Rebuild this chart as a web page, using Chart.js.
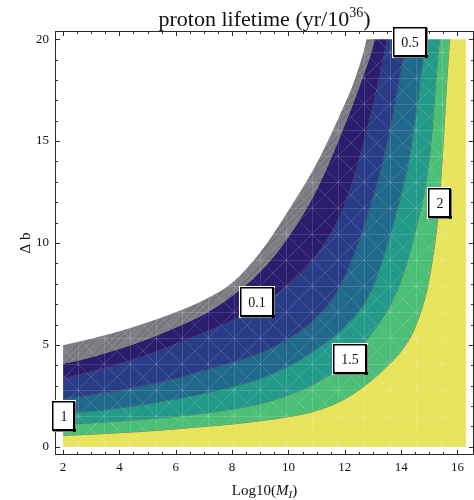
<!DOCTYPE html>
<html>
<head>
<meta charset="utf-8">
<script src="https://cdn.jsdelivr.net/npm/chart.js@4/dist/chart.umd.min.js"></script>
<style>
  html, body { margin: 0; padding: 0; background: #fff; }
</style>
</head>
<body>
<canvas id="chart" width="474" height="500"></canvas>
<script>
const FONT = "'Liberation Serif', 'Times New Roman', Times, serif";

// contour lines (x = Log10(M_I), y = Δb)
const edgeX   = [2, 3, 4.5, 6, 7, 8, 9, 10, 11, 11.8, 12.4, 12.77];
const edgeY   = [4.98, 5.3, 5.88, 6.6, 7.2, 8.05, 9.55, 11.6, 13.9, 16.2, 18.2, 20];
const lvl005X = [2, 3, 4.5, 6, 7, 8, 9, 10, 11, 12, 12.6, 13.06];
const lvl005Y = [4.08, 4.4, 5.03, 5.85, 6.5, 7.4, 8.6, 10.3, 12.6, 15.8, 18.0, 20];
const lvl01X  = [2, 3, 4.5, 6, 7, 8, 9, 10, 11, 12, 12.8, 13.5];
const lvl01Y  = [3.35, 3.7, 4.28, 5.05, 5.6, 6.2, 6.95, 7.95, 9.4, 11.9, 15.6, 20];
const lvl05X  = [2, 3, 4.5, 6, 7, 8, 9, 10, 11, 11.8, 12.6, 13.4, 14.2];
const lvl05Y  = [2.37, 2.55, 2.9, 3.35, 3.75, 4.15, 4.6, 5.3, 6.35, 7.8, 10.5, 14.3, 20];
const lvl1X   = [2, 3, 4.5, 6, 7, 8, 9, 10, 11, 12, 12.8, 13.2, 13.6, 14.3, 14.88];
const lvl1Y   = [1.6, 1.75, 2.0, 2.35, 2.62, 2.95, 3.35, 3.95, 4.8, 5.9, 7.3, 8.6, 10.4, 14.3, 20];
const lvl15X  = [2, 3, 4.5, 6, 7, 8, 9, 10, 11, 12, 12.8, 13.5, 14.0, 14.5, 15.0, 15.36];
const lvl15Y  = [1.1, 1.18, 1.32, 1.5, 1.65, 1.85, 2.12, 2.55, 3.15, 4.1, 5.3, 6.7, 8.2, 10.6, 14.2, 20];
const lvl2X   = [2, 3, 4.5, 6, 7, 8, 9, 10, 11, 12, 12.8, 13.5, 14.0, 14.5, 15.0, 15.35, 15.73];
const lvl2Y   = [0.56, 0.62, 0.73, 0.88, 1.0, 1.12, 1.28, 1.48, 1.78, 2.35, 3.1, 3.95, 4.7, 5.9, 8.3, 12.0, 20];
const floorX  = [2, 16.3];
const floorY  = [0, 0];

// band between each line and the next one
const bandColors = ['#7f7f86', '#2c1c6e', '#283c88', '#21688d', '#239a89', '#4cbf77', '#e7e35a'];

const labelText = ['0.1', '0.5', '1', '1.5', '2'];
const labelX    = [8.89, 14.31, 2.05, 12.2, 15.37];
const labelY    = [7.09, 19.85, 1.51, 4.29, 11.97];

const xTicks = [2, 4, 6, 8, 10, 12, 14, 16];
const yTicks = [0, 5, 10, 15, 20];

const xRight = 16.3, yTop = 20;

function curve(xs, ys) {
  const pts = xs.map((x, i) => ({x, y: ys[i]}));
  if (ys[ys.length - 1] >= yTop) {
    // run past the top edge, it is clipped away below
    pts.push({x: xs[xs.length - 1] + 0.05, y: yTop + 0.4}, {x: xRight, y: yTop + 0.4});
  }
  return pts;
}

function meshPattern(color, hatch) {
  const c = document.createElement('canvas');
  c.width = c.height = 26;
  const g = c.getContext('2d');
  g.fillStyle = color;
  g.fillRect(0, 0, 26, 26);
  if (hatch) {
    g.strokeStyle = 'rgba(70,70,80,0.45)';
    g.lineWidth = 1;
    g.beginPath();
    for (let k = -26; k < 52; k += 6.5) { g.moveTo(k, 26); g.lineTo(k + 26, 0); }
    g.stroke();
  }
  g.strokeStyle = 'rgba(255,255,255,0.14)';
  g.lineWidth = 1;
  g.beginPath();
  g.moveTo(0, 0.5); g.lineTo(26, 0.5);
  g.moveTo(0.5, 0); g.lineTo(0.5, 26);
  g.moveTo(0, 0); g.lineTo(26, 26);
  g.moveTo(26, 0); g.lineTo(0, 26);
  g.stroke();
  return g.createPattern(c, 'repeat');
}

const lines = [
  [edgeX, edgeY], [lvl005X, lvl005Y], [lvl01X, lvl01Y], [lvl05X, lvl05Y],
  [lvl1X, lvl1Y], [lvl15X, lvl15Y], [lvl2X, lvl2Y], [floorX, floorY]
];

const datasets = lines.map(([xs, ys], i) => ({
  data: curve(xs, ys),
  fill: i < bandColors.length ? '+1' : false,
  backgroundColor: i < bandColors.length ? meshPattern(bandColors[i], i === 0) : 'transparent',
  borderColor: (i === 0 || i === lines.length - 1) ? 'rgba(0,0,0,0)' : 'rgba(50,50,50,0.6)',
  borderWidth: 1,
  pointRadius: 0,
  cubicInterpolationMode: 'monotone'
}));

const decor = {
  id: 'decor',
  beforeDatasetsDraw(chart) {
    const {ctx, chartArea: a, scales: {y}} = chart;
    const top = y.getPixelForValue(yTop);
    ctx.save();
    ctx.beginPath();
    ctx.rect(a.left, top, a.right - a.left, a.bottom - top);
    ctx.clip();
  },
  afterDatasetsDraw(chart) {
    chart.ctx.restore();
  },
  afterDraw(chart) {
    const {ctx, chartArea: a, scales: {x, y}} = chart;
    ctx.save();
    // frame with inward ticks on all four sides
    ctx.strokeStyle = '#2a2a2a';
    ctx.lineWidth = 1;
    ctx.strokeRect(Math.round(a.left) + 0.5, Math.round(a.top) + 0.5,
                   Math.round(a.right - a.left) - 1, Math.round(a.bottom - a.top) - 1);
    ctx.beginPath();
    for (let v = 2; v <= 16.01; v += 0.5) {
      const len = xTicks.includes(v) ? 5 : 3;
      const px = Math.round(x.getPixelForValue(v)) + 0.5;
      ctx.moveTo(px, a.bottom); ctx.lineTo(px, a.bottom - len);
      ctx.moveTo(px, a.top); ctx.lineTo(px, a.top + len);
    }
    for (let v = 0; v <= 20; v += 1) {
      const len = yTicks.includes(v) ? 5 : 3;
      const py = Math.round(y.getPixelForValue(v)) + 0.5;
      ctx.moveTo(a.left, py); ctx.lineTo(a.left + len, py);
      ctx.moveTo(a.right, py); ctx.lineTo(a.right - len, py);
    }
    ctx.stroke();

    const cx = (a.left + a.right) / 2;
    ctx.fillStyle = '#111';
    ctx.textBaseline = 'alphabetic';
    ctx.textAlign = 'left';

    // title with exponent
    const t1 = 'proton lifetime (yr/10', t2 = '36', t3 = ')';
    ctx.font = `22px ${FONT}`;
    const w1 = ctx.measureText(t1).width, w3 = ctx.measureText(t3).width;
    ctx.font = `14px ${FONT}`;
    const w2 = ctx.measureText(t2).width;
    let tx = cx - (w1 + w2 + w3) / 2;
    ctx.font = `22px ${FONT}`;
    ctx.fillText(t1, tx, 26);
    ctx.font = `14px ${FONT}`;
    ctx.fillText(t2, tx + w1, 17);
    ctx.font = `22px ${FONT}`;
    ctx.fillText(t3, tx + w1 + w2, 26);

    // x axis title Log10(M_I)
    const parts = [
      ['Log10(', `15px ${FONT}`, 0],
      ['M', `italic 15px ${FONT}`, 0],
      ['I', `italic 11px ${FONT}`, 3],
      [')', `15px ${FONT}`, 0]
    ];
    let total = 0;
    parts.forEach(p => { ctx.font = p[1]; total += ctx.measureText(p[0]).width; });
    tx = cx - total / 2;
    parts.forEach(p => {
      ctx.font = p[1];
      ctx.fillText(p[0], tx, 495 + p[2]);
      tx += ctx.measureText(p[0]).width;
    });

    // y axis title
    ctx.save();
    ctx.translate(30, (a.top + a.bottom) / 2);
    ctx.rotate(-Math.PI / 2);
    ctx.textAlign = 'center';
    ctx.font = `15px ${FONT}`;
    ctx.fillText('Δ b', 0, 0);
    ctx.restore();

    // contour labels in framed white boxes
    ctx.font = `14px ${FONT}`;
    ctx.textAlign = 'center';
    ctx.textBaseline = 'middle';
    labelText.forEach((t, i) => {
      const px = Math.round(x.getPixelForValue(labelX[i]));
      const py = Math.round(y.getPixelForValue(labelY[i]));
      const w = Math.round(ctx.measureText(t).width) + 16, h = 30;
      const l = px - Math.round(w / 2), tp = py - h / 2;
      ctx.fillStyle = '#fff';
      ctx.fillRect(l - 1, tp - 1, w + 2, h + 2);
      ctx.strokeStyle = '#000';
      ctx.lineWidth = 1.5;
      ctx.strokeRect(l + 0.75, tp + 0.75, w - 1.5, h - 1.5);
      ctx.fillStyle = '#000';
      ctx.fillRect(l + w - 2, tp + 1, 2.5, h);
      ctx.fillRect(l + 1, tp + h - 2, w, 2.5);
      ctx.fillStyle = '#111';
      ctx.fillText(t, px, py + 1);
    });
    ctx.restore();
  }
};

new Chart(document.getElementById('chart'), {
  type: 'line',
  data: { datasets },
  options: {
    responsive: false,
    devicePixelRatio: 1,
    animation: false,
    events: [],
    layout: { padding: { left: 0, right: -4, top: 31, bottom: 0 } },
    plugins: { legend: { display: false }, tooltip: { enabled: false } },
    scales: {
      x: {
        type: 'linear',
        min: 1.714,
        max: 16.586,
        afterBuildTicks: s => { s.ticks = xTicks.map(v => ({value: v})); },
        afterFit: s => { s.height = 45; },
        grid: { display: false, drawTicks: false },
        border: { display: false },
        ticks: { font: { family: FONT, size: 13 }, color: '#111', padding: 5, maxRotation: 0, autoSkip: false }
      },
      y: {
        type: 'linear',
        min: -0.4,
        max: 20.4,
        afterBuildTicks: s => { s.ticks = yTicks.map(v => ({value: v})); },
        afterFit: s => { s.width = 55; },
        grid: { display: false, drawTicks: false },
        border: { display: false },
        ticks: { font: { family: FONT, size: 13 }, color: '#111', padding: 6, autoSkip: false }
      }
    }
  },
  plugins: [decor]
});
</script>
</body>
</html>
